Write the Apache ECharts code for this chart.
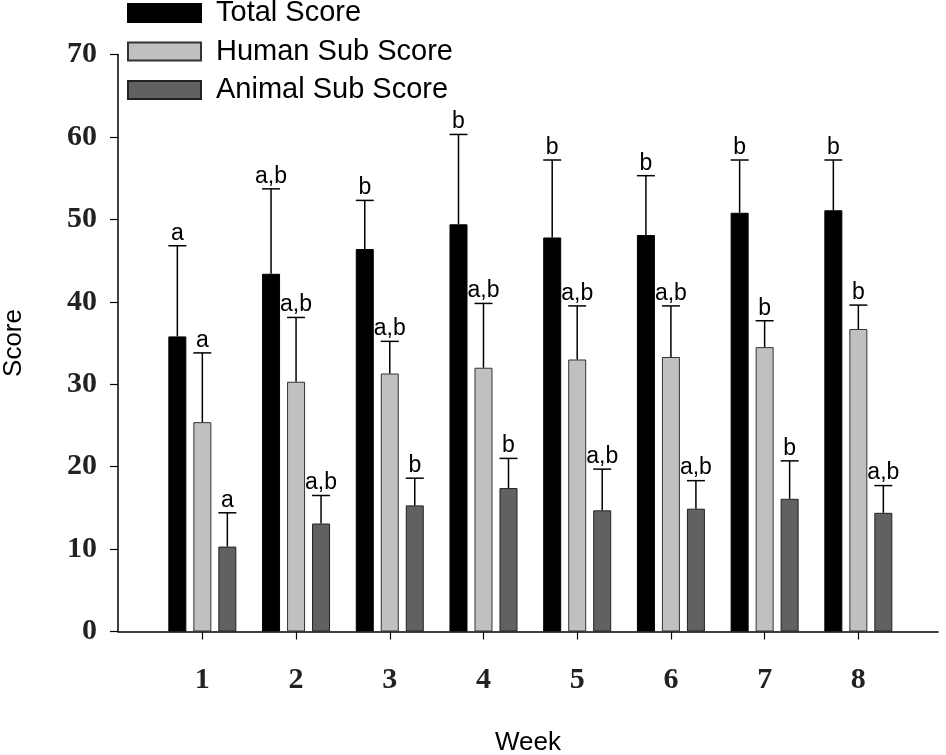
<!DOCTYPE html>
<html>
<head>
<meta charset="utf-8">
<script src="https://cdn.jsdelivr.net/npm/echarts@6/dist/echarts.min.js"></script>
<style>
html, body { margin: 0; padding: 0; background: #fff; }
#main { width: 946px; height: 755px; }
</style>
</head>
<body>
<div id="main"></div>
<script>
var weeks = [1, 2, 3, 4, 5, 6, 7, 8];
var seriesNames = ['Total Score', 'Human Sub Score', 'Animal Sub Score'];

// means and upper error (SD)
var totalMean = [35.8, 43.4, 46.4, 49.4, 47.8, 48.1, 50.8, 51.1];
var totalErr = [11.0, 10.3, 5.9, 10.9, 9.4, 7.2, 6.4, 6.1];
var humanMean = [25.4, 30.3, 31.3, 32.0, 33.0, 33.3, 34.5, 36.7];
var humanErr = [8.4, 7.8, 3.9, 7.8, 6.5, 6.2, 3.2, 2.9];
var animalMean = [10.3, 13.1, 15.3, 17.4, 14.7, 14.9, 16.1, 14.4];
var animalErr = [4.1, 3.4, 3.3, 3.6, 5.0, 3.4, 4.6, 3.3];

// significance letters
var totalSig = ['a', 'a,b', 'b', 'b', 'b', 'b', 'b', 'b'];
var humanSig = ['a', 'a,b', 'a,b', 'a,b', 'a,b', 'a,b', 'b', 'b'];
var animalSig = ['a', 'a,b', 'b', 'b', 'a,b', 'a,b', 'b', 'a,b'];

var yTicks = [0, 10, 20, 30, 40, 50, 60, 70];

var myChart = echarts.init(document.getElementById('main'));

var BAR_W = 18;
var STEP = 25; // bar centre to bar centre in px

function pairs(xs, ys) {
    return xs.map(function (x, i) { return [x, ys[i]]; });
}

function errSeries(means, errs, sig, slot) {
    var data = weeks.map(function (w, i) {
        return [w, means[i], means[i] + errs[i]];
    });
    return {
        type: 'custom',
        silent: true,
        z: 5,
        data: data,
        renderItem: function (params, api) {
            var base = api.coord([api.value(0), api.value(1)]);
            var top = api.coord([api.value(0), api.value(2)]);
            var x = base[0] + slot * STEP;
            var half = BAR_W / 2;
            return {
                type: 'group',
                children: [
                    { type: 'line', shape: { x1: x, y1: base[1], x2: x, y2: top[1] },
                      style: { stroke: '#000', lineWidth: 1.5 } },
                    { type: 'line', shape: { x1: x - half, y1: top[1], x2: x + half, y2: top[1] },
                      style: { stroke: '#000', lineWidth: 1.5 } },
                    { type: 'text', x: x, y: top[1] - 1,
                      style: { text: sig[params.dataIndex], textAlign: 'center', textVerticalAlign: 'bottom',
                               fontFamily: 'Liberation Sans, Arial', fontSize: 23, fill: '#000' } }
                ]
            };
        }
    };
}

var option = {
    animation: false,
    backgroundColor: '#fff',
    legend: {
        data: seriesNames,
        orient: 'vertical',
        left: 127,
        top: -2,
        padding: 0,
        itemGap: 8.5,
        itemWidth: 73,
        itemHeight: 18,
        icon: 'rect',
        textStyle: { fontFamily: 'Liberation Sans, Arial', fontSize: 29, color: '#000',
                     lineHeight: 30, padding: [0, 0, 0, 10] }
    },
    grid: { left: 118, right: 8, top: 54.5, bottom: 123.5, outerBoundsMode: 'none', containLabel: false },
    xAxis: {
        type: 'value',
        min: 0.1,
        max: 8.85,
        name: 'Week',
        nameLocation: 'middle',
        nameGap: 98,
        nameTextStyle: { fontFamily: 'Liberation Sans, Arial', fontSize: 26, color: '#000' },
        splitLine: { show: false },
        axisLine: { show: true, lineStyle: { color: '#000', width: 1.5 } },
        axisTick: { show: true, inside: false, length: 8, customValues: weeks,
                    lineStyle: { color: '#000', width: 1.2 } },
        axisLabel: { customValues: weeks, margin: 34, fontFamily: 'Liberation Serif, Times New Roman',
                     fontWeight: 'bold', fontSize: 30, color: '#222' }
    },
    yAxis: {
        type: 'value',
        min: 0,
        max: 70,
        interval: 10,
        name: 'Score',
        nameLocation: 'middle',
        nameGap: 91,
        nameTextStyle: { fontFamily: 'Liberation Sans, Arial', fontSize: 26, color: '#000' },
        splitLine: { show: false },
        axisLine: { show: true, lineStyle: { color: '#000', width: 1.5 } },
        axisTick: { show: true, inside: false, length: 8, lineStyle: { color: '#000', width: 1.2 } },
        axisLabel: { margin: 21, fontFamily: 'Liberation Serif, Times New Roman',
                     fontWeight: 'bold', fontSize: 30, color: '#222',
                     customValues: yTicks }
    },
    series: [
        { name: seriesNames[0], type: 'bar', barWidth: BAR_W, barGap: ((STEP - BAR_W) / BAR_W * 100) + '%',
          data: pairs(weeks, totalMean),
          itemStyle: { color: '#000', borderColor: '#000', borderWidth: 1 } },
        { name: seriesNames[1], type: 'bar', barWidth: BAR_W,
          data: pairs(weeks, humanMean),
          itemStyle: { color: '#c0c0c0', borderColor: '#333', borderWidth: 1 } },
        { name: seriesNames[2], type: 'bar', barWidth: BAR_W,
          data: pairs(weeks, animalMean),
          itemStyle: { color: '#616161', borderColor: '#222', borderWidth: 1 } },
        errSeries(totalMean, totalErr, totalSig, -1),
        errSeries(humanMean, humanErr, humanSig, 0),
        errSeries(animalMean, animalErr, animalSig, 1)
    ]
};

myChart.setOption(option);
</script>
</body>
</html>
